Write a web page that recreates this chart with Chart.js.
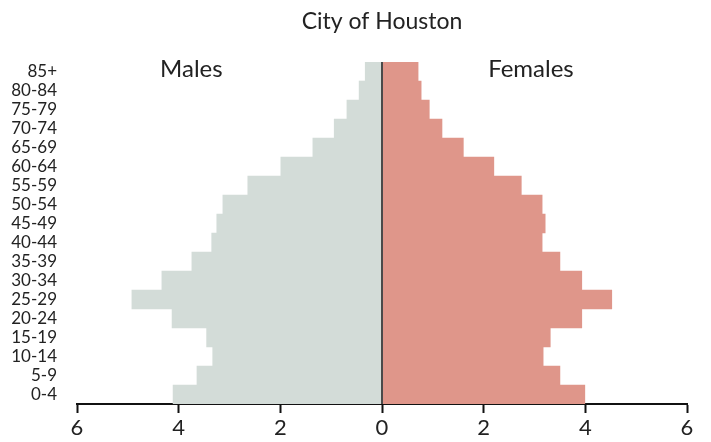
<!DOCTYPE html>
<html lang="en">
<head>
    <meta charset="UTF-8">
    <title>City of Houston</title>
    <script src="https://cdn.jsdelivr.net/npm/chart.js"></script>
    <style>
        html, body { margin: 0; padding: 0; background: #fff; }
        #wrap { width: 711px; height: 442px; position: relative; }
    </style>
</head>
<body>
    <div id="wrap"><canvas id="pyramid"></canvas></div>

    <script>
        // age groups, oldest first (top of the pyramid)
        const ageGroups = ['85+', '80-84', '75-79', '70-74', '65-69', '60-64', '55-59', '50-54', '45-49',
            '40-44', '35-39', '30-34', '25-29', '20-24', '15-19', '10-14', '5-9', '0-4'];
        // percent of population
        const males = [0.33, 0.45, 0.69, 0.94, 1.36, 1.99, 2.64, 3.13, 3.25,
            3.35, 3.74, 4.33, 4.92, 4.13, 3.45, 3.33, 3.64, 4.11];
        const females = [0.71, 0.77, 0.93, 1.18, 1.60, 2.20, 2.74, 3.15, 3.21,
            3.15, 3.50, 3.93, 4.52, 3.93, 3.31, 3.17, 3.50, 3.99];
        const xTicks = [-6, -4, -2, 0, 2, 4, 6];

        const FONT = 'Lato, "Open Sans", sans-serif';

        // title, side labels and centre line
        const decor = {
            id: 'decor',
            afterDatasetsDraw(chart) {
                const { ctx, chartArea, scales } = chart;
                const x0 = scales.x.getPixelForValue(0);
                ctx.save();
                ctx.strokeStyle = '#4a4a4a';
                ctx.lineWidth = 2;
                ctx.beginPath();
                ctx.moveTo(x0, chartArea.top);
                ctx.lineTo(x0, chartArea.bottom);
                ctx.stroke();

                ctx.fillStyle = '#222';
                ctx.textAlign = 'center';
                ctx.textBaseline = 'middle';
                ctx.font = '23px ' + FONT;
                ctx.fillText('City of Houston', x0, 22);
                ctx.font = '24px ' + FONT;
                ctx.fillText('Males', scales.x.getPixelForValue(-3.75), 69);
                ctx.fillText('Females', scales.x.getPixelForValue(2.93), 69);
                ctx.restore();
            }
        };

        new Chart(document.getElementById('pyramid'), {
            type: 'bar',
            data: {
                labels: ageGroups,
                datasets: [
                    {
                        label: 'Males',
                        data: males.map(v => -v),
                        backgroundColor: '#d3dcd8',
                        categoryPercentage: 1,
                        barPercentage: 1
                    },
                    {
                        label: 'Females',
                        data: females,
                        backgroundColor: '#df968a',
                        categoryPercentage: 1,
                        barPercentage: 1
                    }
                ]
            },
            options: {
                indexAxis: 'y',
                responsive: true,
                maintainAspectRatio: false,
                animation: false,
                layout: { padding: { top: 62, right: 24, bottom: 0, left: 0 } },
                plugins: {
                    legend: { display: false },
                    tooltip: { enabled: false }
                },
                scales: {
                    x: {
                        stacked: true,
                        min: -6,
                        max: 6,
                        afterBuildTicks: axis => { axis.ticks = xTicks.map(v => ({ value: v })); },
                        afterFit: axis => { axis.height = 38; },
                        border: { display: true, color: '#111', width: 2 },
                        grid: {
                            drawOnChartArea: false,
                            drawTicks: true,
                            tickLength: 9,
                            tickWidth: 2,
                            tickColor: '#111'
                        },
                        ticks: {
                            padding: 2,
                            color: '#222',
                            font: { family: FONT, size: 22 },
                            callback: v => Math.abs(v)
                        }
                    },
                    y: {
                        stacked: true,
                        afterFit: axis => { axis.width = 77; },
                        border: { display: false },
                        grid: { display: false },
                        ticks: {
                            autoSkip: false,
                            padding: 12,
                            color: '#222',
                            font: { family: FONT, size: 17 }
                        }
                    }
                }
            },
            plugins: [decor]
        });
    </script>
</body>
</html>
